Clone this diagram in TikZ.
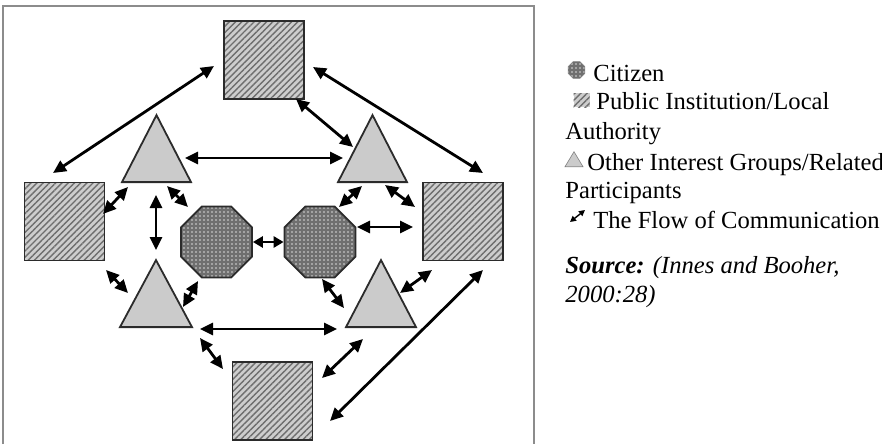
\documentclass[tikz,border=0pt]{standalone}
\usepackage{fontspec}
\setmainfont{Liberation Serif}
\usepackage{tikz}
\usetikzlibrary{shapes.geometric, arrows.meta, patterns.meta}
\definecolor{HatchGray}{HTML}{6E6E6E}
\definecolor{SquareGray}{HTML}{CDCDCD}
\definecolor{TriGray}{HTML}{CBCBCB}
\definecolor{CitizenGray}{HTML}{6F6F6F}
\definecolor{EdgeGray}{HTML}{2B2B2B}
\definecolor{FrameGray}{HTML}{8C8C8C}
\tikzset{
    institution/.style={draw=EdgeGray, line width=0.9pt, minimum width=40pt,
        minimum height=39pt, inner sep=0pt, preaction={fill=SquareGray},
        pattern={Lines[angle=45,distance=2.2pt,line width=0.7pt]},
        pattern color=HatchGray},
    group/.style={draw=EdgeGray, line width=0.9pt, isosceles triangle,
        isosceles triangle stretches, shape border rotate=90,
        minimum width=34.5pt, minimum height=33.5pt, inner sep=0pt,
        fill=TriGray, anchor=lower side},
    citizen/.style={draw=EdgeGray, line width=0.9pt, regular polygon,
        regular polygon sides=8, minimum size=38.4pt, inner sep=0pt,
        preaction={fill=CitizenGray},
        pattern={Dots[distance=2pt,radius=0.45pt]}, pattern color=gray!30},
    flow/.style={{Triangle[length=6.5pt,width=6pt]}-{Triangle[length=6.5pt,width=6pt]},
        line width=1.4pt},
    legend/.style={anchor=base west, inner sep=0pt,
        font=\fontsize{12.3}{14}\selectfont}
}

\begin{document}
\begin{tikzpicture}[x=0.5pt, y=-0.5pt]
    \useasboundingbox (0,0) rectangle (882,444);
    % Frame, open at the bottom
    \draw[FrameGray, line width=0.6pt] (3,444) -- (3,6) -- (534,6) -- (534,444);

    % Public institutions
    \node[institution] (topsq) at (264,60) {};
    \node[institution] (leftsq) at (64.5,221.5) {};
    \node[institution] (rightsq) at (463,221.5) {};
    \node[institution] (botsq) at (272.5,401) {};

    % Other interest groups (placed by the middle of their base)
    \node[group] (tl) at (156.5,183) {};
    \node[group] (tr) at (372.5,183) {};
    \node[group, minimum width=36pt] (bl) at (156,328) {};
    \node[group, minimum width=35pt] (br) at (381,328) {};

    % Citizens
    \node[citizen] (cl) at (216.5,242) {};
    \node[citizen] (cr) at (320,242) {};

    % Flow of communication
    \draw[flow] ([shift={(-11.5,-48.5)}]leftsq.center) -- ([shift={(-50,6)}]topsq.center);
    \draw[flow] ([shift={(49,7)}]topsq.center) -- ([shift={(20,-48.5)}]rightsq.center);
    \draw[flow] ([shift={(32,39)}]topsq.center) -- ([shift={(-19.5,-36)}]tr.lower side);
    \draw[flow] ([shift={(28.5,-25)}]tl.lower side) -- ([shift={(-29.5,-25)}]tr.lower side);
    \draw[flow] ([shift={(38.5,-7.5)}]leftsq.center) -- ([shift={(-28.5,4)}]tl.lower side);
    \draw[flow] ([shift={(10.5,3)}]tl.lower side) -- ([shift={(-28.5,-35)}]cl.center);
    \draw[flow] ([shift={(-0.5,12)}]tl.lower side) -- ([shift={(0,-78)}]bl.lower side);
    \draw[flow] ([shift={(41.5,48.5)}]leftsq.center) -- ([shift={(-28,-35)}]bl.lower side);
    \draw[flow] ([shift={(27,-21)}]bl.lower side) -- ([shift={(-18.5,39)}]cl.center);
    \draw[{Triangle[length=5pt,width=5.5pt]}-{Triangle[length=5pt,width=5.5pt]}, line width=1.4pt]
        (cl.east) -- (cr.west);
    \draw[flow] ([shift={(-10.5,3)}]tr.lower side) -- ([shift={(19,-35)}]cr.center);
    \draw[flow] ([shift={(12.5,2)}]tr.lower side) -- ([shift={(-48,-14.5)}]rightsq.center);
    \draw[flow] ([shift={(37,-15)}]cr.center) -- ([shift={(-50,5.5)}]rightsq.center);
    \draw[flow] ([shift={(2,37)}]cr.center) -- ([shift={(-37,-20)}]br.lower side);
    \draw[flow] ([shift={(19,-35)}]br.lower side) -- ([shift={(-31,48.5)}]rightsq.center);
    \draw[flow] ([shift={(44,1)}]bl.lower side) -- ([shift={(-44,1)}]br.lower side);
    \draw[flow] ([shift={(44,10)}]bl.lower side) -- ([shift={(-49.5,-32)}]botsq.center);
    \draw[flow] ([shift={(-18,11)}]br.lower side) -- ([shift={(49.5,-23)}]botsq.center);
    \draw[flow] ([shift={(20,48.5)}]rightsq.center) -- ([shift={(57.5,20)}]botsq.center);

    % Legend
    \node[citizen, minimum size=9pt, line width=0.3pt, draw=gray] (keycit) at (576.5,70) {};
    \node[institution, minimum width=8pt, minimum height=7pt, draw=none] (keyinst) at (581.5,100.5) {};
    \node[group, minimum width=9pt, minimum height=7.5pt, line width=0.3pt, draw=gray] (keygrp) at (574,167) {};
    \coordinate (keyfrom) at (570,222);
    \coordinate (keyto) at (585,210);
    \draw[{Triangle[length=3pt,width=3pt]}-{Triangle[length=3pt,width=3pt]}, line width=0.7pt]
        (keyfrom) -- (keyto);
    \node[legend] (lcit) at (593,82) {Citizen};
    \node[legend] (linst) at (596,110) {Public Institution/Local};
    \node[legend] (lauth) at (565,140) {Authority};
    \node[legend] (lgrp) at (587,170) {Other Interest Groups/Related};
    \node[legend] (lpart) at (565,198) {Participants};
    \node[legend] (lflow) at (593,228) {The Flow of Communication};
    \node[legend] (lsrc) at (565,273) {\textit{\textbf{Source:} (Innes and Booher,}};
    \node[legend] (lyear) at (565,302) {\textit{2000:28)}};
\end{tikzpicture}
\end{document}
